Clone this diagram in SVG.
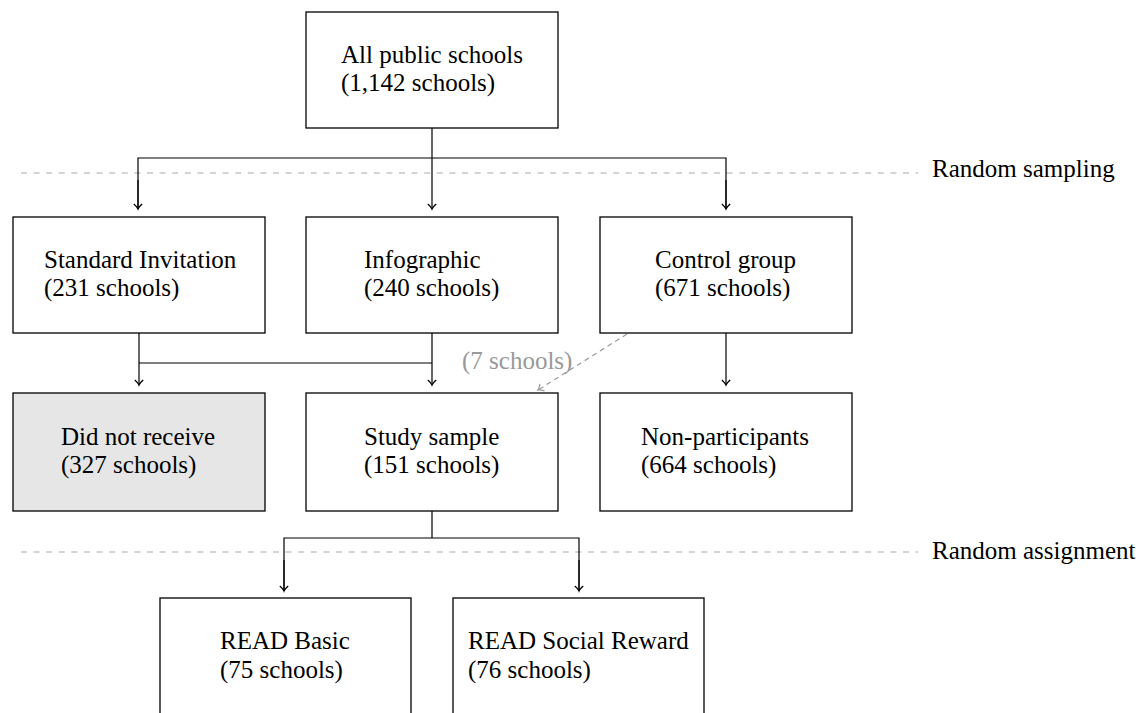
<svg xmlns="http://www.w3.org/2000/svg" width="1139" height="713" viewBox="0 0 1139 713">
<defs>
<style>
.box{fill:#fff;stroke:#000;stroke-width:1.3}
.gbox{fill:#e6e6e6;stroke:#000;stroke-width:1.3}
text{font-family:"Liberation Serif","Times New Roman",serif;font-size:25px;fill:#000}
.gt{fill:#999}
.c{fill:none;stroke:#000;stroke-width:1.2}
.cd{fill:none;stroke:#999;stroke-width:1.2;stroke-dasharray:5 4}
.sep{fill:none;stroke:#aaa;stroke-width:1.2;stroke-dasharray:6 6.6}
</style>
<marker id="ah" markerUnits="userSpaceOnUse" markerWidth="12" markerHeight="12" viewBox="-7 -6 8 12" refX="0" refY="0" orient="auto">
<path d="M -5,-4.2 Q -1.8,-0.6 0,0 Q -1.8,0.6 -5,4.2" fill="none" stroke="#000" stroke-width="1.2"/>
</marker>
<marker id="ahg" markerUnits="userSpaceOnUse" markerWidth="12" markerHeight="12" viewBox="-7 -6 8 12" refX="0" refY="0" orient="auto">
<path d="M -5,-4.2 Q -1.8,-0.6 0,0 Q -1.8,0.6 -5,4.2" fill="none" stroke="#999" stroke-width="1.2"/>
</marker>
</defs>

<g id="separators">
<line class="sep" x1="21" y1="173" x2="918" y2="173"/>
<line class="sep" x1="21" y1="552" x2="918" y2="552"/>
<text x="932" y="177">Random sampling</text>
<text x="932" y="559">Random assignment</text>
</g>

<g id="connectors">
<line class="c" x1="432" y1="128" x2="432" y2="209" marker-end="url(#ah)"/>
<polyline class="c" points="138,209 138,158 726,158 726,209" />
<line class="c" x1="138" y1="180" x2="138" y2="209" marker-end="url(#ah)"/>
<line class="c" x1="726" y1="180" x2="726" y2="209" marker-end="url(#ah)"/>
<line class="c" x1="139" y1="333" x2="139" y2="385" marker-end="url(#ah)"/>
<line class="c" x1="432" y1="333" x2="432" y2="385" marker-end="url(#ah)"/>
<line class="c" x1="139" y1="363" x2="432" y2="363"/>
<line class="c" x1="726" y1="333" x2="726" y2="385" marker-end="url(#ah)"/>
<line class="c" x1="432" y1="511" x2="432" y2="538"/>
<polyline class="c" points="284,591 284,538 579,538 579,591"/>
<line class="c" x1="284" y1="560" x2="284" y2="591" marker-end="url(#ah)"/>
<line class="c" x1="579" y1="560" x2="579" y2="591" marker-end="url(#ah)"/>
<line class="cd" x1="627" y1="334" x2="538" y2="390" marker-end="url(#ahg)"/>
<text class="gt" x="462" y="369">(7 schools)</text>
</g>

<g id="all">
<rect class="box" x="306" y="12" width="252" height="116"/>
<text x="341" y="63">All public schools</text>
<text x="341" y="91">(1,142 schools)</text>
</g>

<g id="standard">
<rect class="box" x="13" y="217" width="252" height="116"/>
<text x="44" y="268">Standard Invitation</text>
<text x="44" y="296">(231 schools)</text>
</g>

<g id="infographic">
<rect class="box" x="306" y="217" width="252" height="116"/>
<text x="364" y="268">Infographic</text>
<text x="364" y="296">(240 schools)</text>
</g>

<g id="control">
<rect class="box" x="600" y="217" width="252" height="116"/>
<text x="655" y="268">Control group</text>
<text x="655" y="296">(671 schools)</text>
</g>

<g id="notreceive">
<rect class="gbox" x="13" y="393" width="252" height="118"/>
<text x="61" y="445">Did not receive</text>
<text x="61" y="473">(327 schools)</text>
</g>

<g id="study">
<rect class="box" x="306" y="393" width="252" height="118"/>
<text x="364" y="445">Study sample</text>
<text x="364" y="473">(151 schools)</text>
</g>

<g id="nonpart">
<rect class="box" x="600" y="393" width="252" height="118"/>
<text x="641" y="445">Non-participants</text>
<text x="641" y="473">(664 schools)</text>
</g>

<g id="basic">
<rect class="box" x="160" y="598" width="251" height="130"/>
<text x="220" y="649">READ Basic</text>
<text x="220" y="678">(75 schools)</text>
</g>

<g id="social">
<rect class="box" x="453" y="598" width="251" height="130"/>
<text x="468" y="649">READ Social Reward</text>
<text x="468" y="678">(76 schools)</text>
</g>
</svg>
